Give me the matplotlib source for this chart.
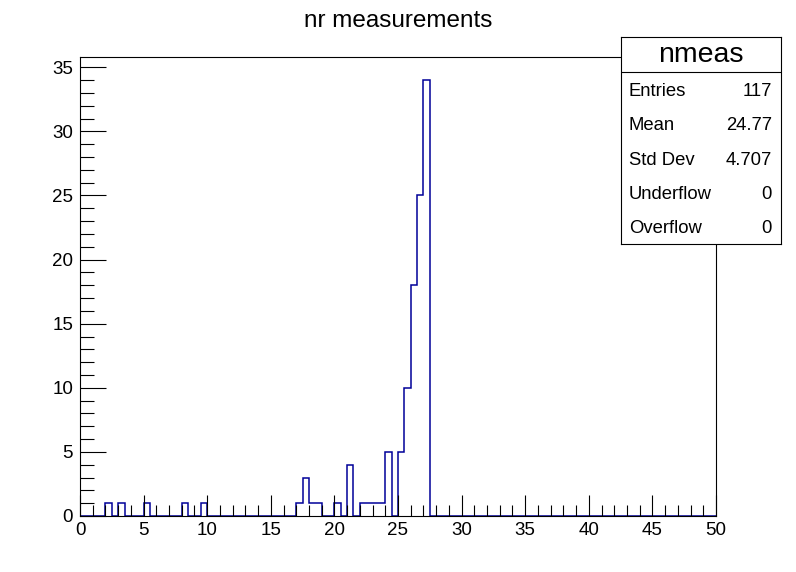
import numpy as np
import matplotlib.pyplot as plt
from matplotlib.ticker import MultipleLocator

plt.rcParams['font.family'] = ['Liberation Sans', 'DejaVu Sans']

# histogram: 100 bins of width 0.5 over [0, 50]
bin_edges = np.linspace(0, 50, 101)
filled_bins = [2.0, 3.0, 5.0, 8.0, 9.5, 17.0, 17.5, 18.0, 18.5, 20.0, 21.0,
               22.0, 22.5, 23.0, 23.5, 24.0, 25.0, 25.5, 26.0, 26.5, 27.0]
filled_counts = [1, 1, 1, 1, 1, 1, 3, 1, 1, 1, 4,
                 1, 1, 1, 1, 5, 5, 10, 18, 25, 34]

stats_labels = ['Entries', 'Mean', 'Std Dev', 'Underflow', 'Overflow']
stats_values = ['117', '24.77', '4.707', '0', '0']

counts = np.zeros(100)
for lo, c in zip(filled_bins, filled_counts):
    counts[int(round(lo / 0.5))] = c

fig = plt.figure(figsize=(7.96, 5.72), dpi=100)
ax = fig.add_axes([80 / 796, 1 - 516 / 572, 636 / 796, 459 / 572])

ax.stairs(counts, bin_edges, color='#000099', linewidth=1.1)
ax.set_xlim(0, 50)
ax.set_ylim(0, 35.8)

ax.xaxis.set_major_locator(MultipleLocator(5))
ax.xaxis.set_minor_locator(MultipleLocator(1))
ax.yaxis.set_major_locator(MultipleLocator(5))
ax.yaxis.set_minor_locator(MultipleLocator(1))
ax.tick_params(which='both', direction='in', top=False, right=False,
               labelsize=13.5, width=0.8)
ax.tick_params(axis='x', which='major', length=15, pad=4)
ax.tick_params(axis='x', which='minor', length=8)
ax.tick_params(axis='y', which='major', length=19, pad=5)
ax.tick_params(axis='y', which='minor', length=10)
for s in ax.spines.values():
    s.set_linewidth(0.8)

fig.text(398 / 796, 1 - 21 / 572, 'nr measurements', ha='center', va='center',
         fontsize=17.5)

# stats box
box = fig.add_axes([621 / 796, 1 - 244 / 572, 160 / 796, 207 / 572])
box.set_xlim(0, 160)
box.set_ylim(207, 0)
box.set_xticks([])
box.set_yticks([])
for s in box.spines.values():
    s.set_linewidth(0.8)
box.axhline(35, color='black', linewidth=0.8)
box.text(80, 18, 'nmeas', ha='center', va='center', fontsize=20.5)
for i, (lab, val) in enumerate(zip(stats_labels, stats_values)):
    y = 54.5 + i * 34.3
    box.text(8, y, lab, ha='left', va='center', fontsize=13.3)
    box.text(151, y, val, ha='right', va='center', fontsize=13.3)

fig.savefig('out.png', dpi=100)
